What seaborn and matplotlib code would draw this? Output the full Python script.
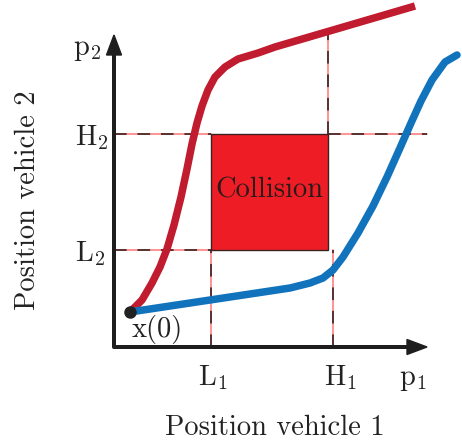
import matplotlib
matplotlib.use("Agg")
import matplotlib.pyplot as plt
from matplotlib.patches import Rectangle
import seaborn as sns

# coordinates: origin at the axes crossing, one unit ~ one pixel
red_x = [16, 18, 28, 38, 46, 53, 60, 67, 73, 78, 83, 88, 94, 101, 111, 124, 144, 161, 301]
red_y = [35, 37, 47, 64, 80, 98, 122, 150, 178, 203, 224, 241, 257, 270, 280, 288, 294, 300, 341]

blue_x = [16, 96, 176, 196, 209, 219, 229, 244, 259, 273, 286, 297, 307, 318, 331, 343]
blue_y = [35, 47, 59, 64, 69, 77, 90, 114, 141, 170, 199, 224, 246, 267, 285, 292]

start = (16, 35)

# collision box and the limits marked on the axes
L1, H1_box, H1 = 97, 214, 219
L2, H2 = 97, 213
top_guide = 314      # where the upper guide meets the red curve
right_guide = 313    # end of the right H2 guide

axis_len_x = 313
axis_len_y = 312

sns.set_theme(style="white")
plt.rcParams["font.family"] = ["cmr10", "DejaVu Serif"]
plt.rcParams["mathtext.fontset"] = "cm"
plt.rcParams["axes.formatter.use_mathtext"] = True

fig = plt.figure(figsize=(4.62, 4.45), dpi=100)
ax = fig.add_axes([0, 0, 1, 1])
ax.set_xlim(-114, 348)
ax.set_ylim(-98, 347)
ax.axis("off")


def guide(xs, ys):
    ax.plot(xs, ys, color="#ff8a8a", lw=1.3, zorder=1)
    ax.plot(xs, ys, color="#4a2a2a", lw=1.3, dashes=(7, 6), zorder=1.1)


guide([0, L1], [H2, H2])
guide([H1_box, right_guide], [H2, H2])
guide([0, L1], [L2, L2])
guide([L1, L1], [0, L2])
guide([H1, H1], [0, L2])
guide([H1_box, H1_box], [H2, top_guide])

ax.add_patch(Rectangle((L1, L2), H1_box - L1, H2 - L2, facecolor="#ee1d25",
                       edgecolor="#3a2222", lw=1.0, zorder=2))
ax.text((L1 + H1_box) / 2, (L2 + H2) / 2 + 2, "Collision", fontsize=20.5,
        ha="center", va="center", color="#2a1a1a", zorder=3)

sns.lineplot(x=red_x, y=red_y, sort=False, ax=ax, color="#c01b2e", lw=5.4,
             solid_capstyle="butt", solid_joinstyle="round", zorder=4)
sns.lineplot(x=blue_x, y=blue_y, sort=False, ax=ax, color="#1173bc", lw=5.4,
             solid_capstyle="round", solid_joinstyle="round", zorder=4)
ax.plot(*start, "o", color="#222222", ms=8, zorder=5)

# axes with arrow heads
ax.arrow(0, 0, axis_len_x, 0, width=2.6, head_width=15, head_length=20,
         length_includes_head=True, color="#1e1e1e", zorder=6)
ax.arrow(0, 0, 0, axis_len_y, width=2.6, head_width=15, head_length=20,
         length_includes_head=True, color="#1e1e1e", zorder=6)
ax.plot([-1.3, 0], [0, 0], color="#1e1e1e", lw=2, zorder=6)

lab = dict(fontsize=20.5, color="#222222", ha="center", va="center")
ax.text(-27, 297, r"$\mathrm{p}_2$", **lab)
ax.text(-22, 209, r"$\mathrm{H}_2$", **lab)
ax.text(-24, 93, r"$\mathrm{L}_2$", **lab)
ax.text(L1 + 2, -31, r"$\mathrm{L}_1$", **lab)
ax.text(H1 + 7, -31, r"$\mathrm{H}_1$", **lab)
ax.text(299, -33, r"$\mathrm{p}_1$", **lab)
ax.text(43, 17, "x(0)", **lab)
ax.text(161, -81, "Position vehicle 1", **lab)
ax.text(-86, 147, "Position vehicle 2", rotation=90, **lab)

fig.savefig("out.png", dpi=100)
